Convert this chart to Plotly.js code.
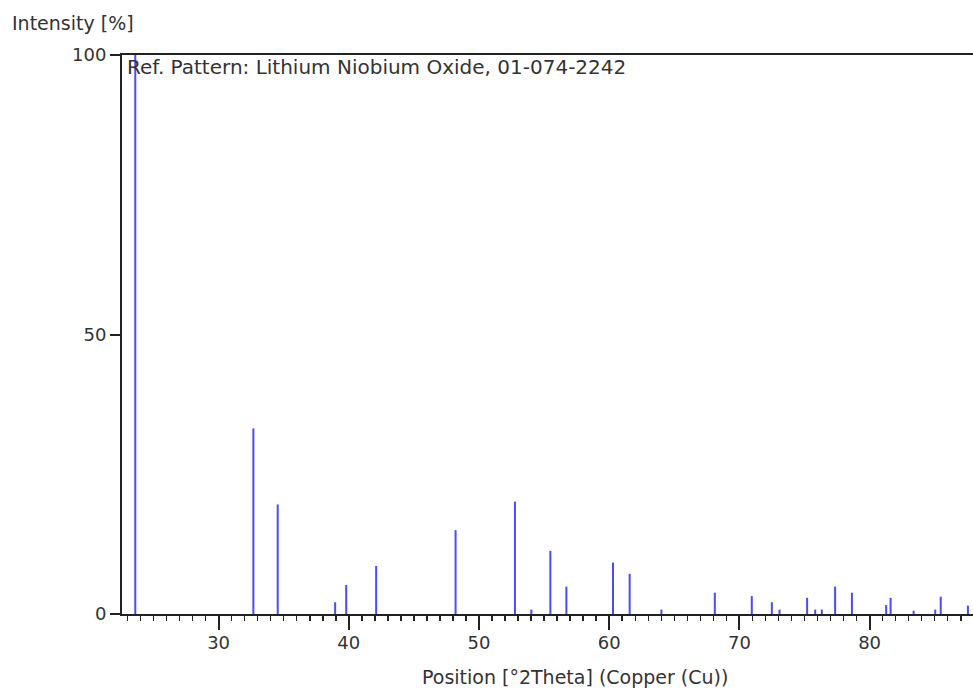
<!DOCTYPE html>
<html>
<head>
<meta charset="utf-8">
<script src="https://cdn.plot.ly/plotly-3.0.1.min.js"></script>
<style>
html,body{margin:0;padding:0;background:#fff;overflow:hidden;}
#chart{width:973px;height:690px;}
</style>
</head>
<body>
<div id="chart"></div>
<script>
// Reference pattern: Lithium Niobium Oxide, 01-074-2242
const positions = [23.60, 32.67, 34.54, 38.95, 39.80, 42.10, 48.20, 52.76, 54.02, 55.48,
                   56.71, 60.29, 61.57, 64.01, 68.11, 70.95, 72.49, 73.08, 75.20, 75.82,
                   76.33, 77.35, 78.64, 81.27, 81.61, 83.38, 85.04, 85.46, 87.55];
const intensities = [100, 33.2, 19.6, 2.1, 5.2, 8.6, 15.0, 20.1, 0.8, 11.3,
                     4.9, 9.2, 7.2, 0.8, 3.8, 3.2, 2.1, 0.8, 2.9, 0.8,
                     0.8, 4.9, 3.8, 1.6, 2.9, 0.6, 0.8, 3.1, 1.5];
const yTickVals = [0, 50, 100];
const titleText = "Ref. Pattern: Lithium Niobium Oxide, 01-074-2242";
const yTitle = "Intensity [%]";
const xTitle = "Position [°2Theta] (Copper (Cu))";

const sx = [], sy = [];
positions.forEach((p, i) => { sx.push(p, p, null); sy.push(0, intensities[i], null); });

const FONT = "DejaVu Sans, Verdana, sans-serif";
const TXT = "#333333";

const trace = {
  type: "scatter", mode: "lines", x: sx, y: sy,
  line: {color: "#4a4aff", width: 2}, hoverinfo: "skip", showlegend: false
};

const layout = {
  width: 973, height: 690,
  margin: {l: 122, r: 0, t: 55, b: 76},
  paper_bgcolor: "#ffffff", plot_bgcolor: "#ffffff",
  font: {family: FONT, size: 18, color: TXT},
  xaxis: {
    range: [22.58, 87.94], tick0: 0, dtick: 10,
    ticks: "outside", ticklen: 14, tickwidth: 2, tickcolor: "#222",
    minor: {dtick: 1, ticks: "outside", ticklen: 5, tickwidth: 1.5, tickcolor: "#222", showgrid: false},
    showline: true, linecolor: "#222", linewidth: 2, mirror: true,
    showgrid: false, zeroline: false,
    tickfont: {family: FONT, size: 18, color: TXT}, ticklabelstandoff: -3
  },
  yaxis: {
    range: [0, 100], tickvals: yTickVals,
    ticks: "outside", ticklen: 10, tickwidth: 2, tickcolor: "#222",
    showline: true, linecolor: "#222", linewidth: 2,
    showgrid: false, zeroline: false,
    tickfont: {family: FONT, size: 18, color: TXT}
  },
  annotations: [
    {text: titleText, xref: "paper", yref: "paper", x: 0.004, y: 0.9786,
     xanchor: "left", yanchor: "middle", showarrow: false,
     font: {family: FONT, size: 20, color: TXT}},
    {text: yTitle, xref: "paper", yref: "paper", x: -0.132, y: 1.057,
     xanchor: "left", yanchor: "middle", showarrow: false,
     font: {family: FONT, size: 19, color: TXT}},
    {text: xTitle, xref: "paper", yref: "paper", x: 0.532, y: -0.1125,
     xanchor: "center", yanchor: "middle", showarrow: false,
     font: {family: FONT, size: 19, color: TXT}}
  ]
};

Plotly.newPlot("chart", [trace], layout, {displayModeBar: false, staticPlot: true});
</script>
</body>
</html>
